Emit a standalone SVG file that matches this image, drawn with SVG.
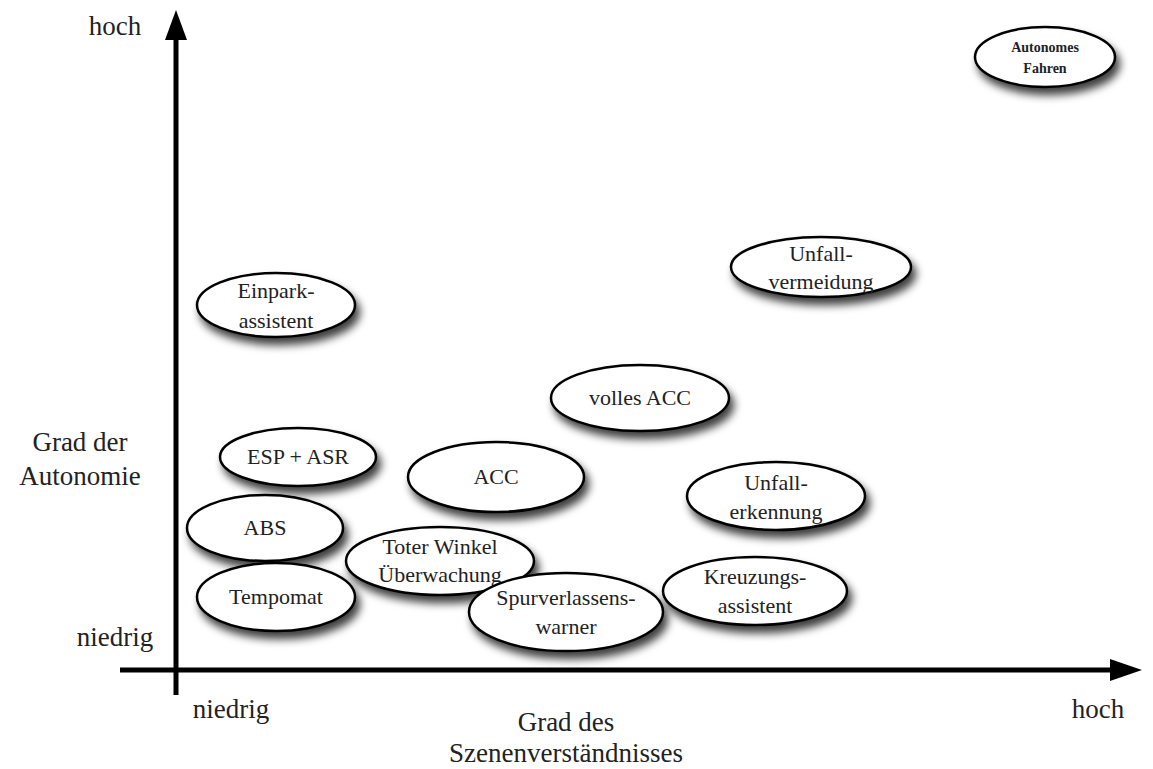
<svg xmlns="http://www.w3.org/2000/svg" width="1153" height="769" viewBox="0 0 1153 769">
<style>
text{font-family:"Liberation Serif",serif;font-size:22px;fill:#222;text-anchor:middle}
.lbl{font-size:27px}
.n ellipse{fill:#fff;stroke:#000;stroke-width:2.5;filter:url(#sh)}
.small{font-size:14px;font-weight:bold}
</style>
<defs>
<filter id="sh" x="-30%" y="-40%" width="160%" height="190%">
<feDropShadow dx="4" dy="7" stdDeviation="4.5" flood-color="#000" flood-opacity="0.75"/>
</filter>
</defs>
<rect width="1153" height="769" fill="#fff"/>
<g id="axes">
<line x1="176" y1="695" x2="176" y2="34" stroke="#000" stroke-width="5"/>
<polygon points="176,10 165,40 187,40" fill="#000"/>
<line x1="120" y1="670" x2="1115" y2="670" stroke="#000" stroke-width="5"/>
<polygon points="1142,670 1110,659 1110,681" fill="#000"/>
</g>
<g id="axis-labels">
<text class="lbl" x="115" y="35">hoch</text>
<text class="lbl" x="80" y="451">Grad der</text>
<text class="lbl" x="80" y="485">Autonomie</text>
<text class="lbl" x="115" y="646">niedrig</text>
<text class="lbl" x="231" y="718">niedrig</text>
<text class="lbl" x="1098" y="718">hoch</text>
<text class="lbl" x="566" y="731">Grad des</text>
<text class="lbl" x="566" y="762">Szenenverständnisses</text>
</g>
<g id="n-autonomes" class="n"><ellipse cx="1045" cy="57" rx="70" ry="30"/><text class="small" x="1045" y="52">Autonomes</text><text class="small" x="1045" y="73">Fahren</text></g>
<g id="n-unfallvermeidung" class="n"><ellipse cx="821" cy="267" rx="90" ry="30"/><text x="821" y="261">Unfall-</text><text x="821" y="289">vermeidung</text></g>
<g id="n-einpark" class="n"><ellipse cx="276" cy="305" rx="79" ry="32"/><text x="276" y="298">Einpark-</text><text x="276" y="328">assistent</text></g>
<g id="n-vollesacc" class="n"><ellipse cx="640" cy="398" rx="89" ry="33"/><text x="640" y="405">volles ACC</text></g>
<g id="n-espasr" class="n"><ellipse cx="298" cy="457" rx="78" ry="29"/><text x="298" y="464">ESP + ASR</text></g>
<g id="n-acc" class="n"><ellipse cx="496" cy="477" rx="88" ry="35"/><text x="496" y="484">ACC</text></g>
<g id="n-unfallerkennung" class="n"><ellipse cx="776" cy="496" rx="89" ry="34"/><text x="776" y="490">Unfall-</text><text x="776" y="519">erkennung</text></g>
<g id="n-abs" class="n"><ellipse cx="265" cy="528" rx="78" ry="33"/><text x="265" y="535">ABS</text></g>
<g id="n-tempomat" class="n"><ellipse cx="276" cy="597" rx="79" ry="34"/><text x="276" y="604">Tempomat</text></g>
<g id="n-toterwinkel" class="n"><ellipse cx="440" cy="561" rx="94" ry="34"/><text x="440" y="554">Toter Winkel</text><text x="440" y="582">Überwachung</text></g>
<g id="n-spur" class="n"><ellipse cx="566" cy="612" rx="97" ry="39"/><text x="566" y="605">Spurverlassens-</text><text x="566" y="634">warner</text></g>
<g id="n-kreuzung" class="n"><ellipse cx="755" cy="591" rx="92" ry="34"/><text x="755" y="584">Kreuzungs-</text><text x="755" y="613">assistent</text></g>
<g id="connectors"></g>
</svg>
